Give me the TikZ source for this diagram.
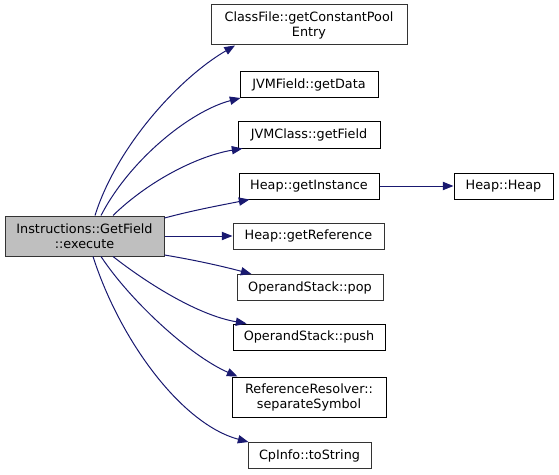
\documentclass[tikz,border=0pt]{standalone}
\usepackage{fontspec}
\setmainfont{DejaVu Sans}
\usetikzlibrary{arrows.meta,calc}
\definecolor{edgecol}{HTML}{191970}
\definecolor{graybord}{HTML}{333333}
\definecolor{mainfill}{HTML}{BFBFBF}
\begin{document}
\begin{tikzpicture}[x=0.75pt,y=-0.75pt,
  box/.style={draw=black, line width=0.75pt, fill=white, inner sep=0pt, align=center,
    font=\fontsize{9.6pt}{11.25pt}\selectfont},
  gbox/.style={box, draw=graybord},
  call/.style={draw=edgecol, line width=0.75pt,
    -{Triangle[length=8pt,width=6.2pt,fill=edgecol]}}]
\useasboundingbox (0,0) rectangle (559,474);

\node[gbox, fill=mainfill, minimum width=119.25pt, minimum height=30pt] (main) at (84.5,236) {Instructions::GetField\\::execute};
\node[gbox, minimum width=147pt, minimum height=30pt] (cf) at (309,25) {ClassFile::getConstantPool\\Entry};
\node[box, minimum width=103.5pt, minimum height=19.5pt] (gd) at (309,84.5) {JVMField::getData};
\node[box, minimum width=106.5pt, minimum height=19.5pt] (gf) at (309,135) {JVMClass::getField};
\node[box, minimum width=105pt, minimum height=19.5pt] (gi) at (309,186) {Heap::getInstance};
\node[box, minimum width=74.25pt, minimum height=19.5pt] (hh) at (503.5,186) {Heap::Heap};
\node[gbox, minimum width=113.25pt, minimum height=19.5pt] (gr) at (308.5,236) {Heap::getReference};
\node[gbox, minimum width=109.5pt, minimum height=19.5pt] (pop) at (310,287.5) {OperandStack::pop};
\node[box, minimum width=114pt, minimum height=19.5pt] (push) at (309,337) {OperandStack::push};
\node[box, minimum width=115.5pt, minimum height=30pt] (rr) at (309,397) {ReferenceResolver::\\separateSymbol};
\node[gbox, minimum width=92.25pt, minimum height=19.5pt] (ci) at (309.5,455.5) {CpInfo::toString};

\draw[call] ($(main.north)+(10.5,0)$) .. controls +(22,-70) and +(-55,32) .. ($(cf.south)+(-74,0)$);
\draw[call] ($(main.north)+(16.5,0)$) .. controls +(29,-56) and +(-50,13) .. ($(gd.south west)+(1,0)$);
\draw[call] ($(main.north)+(28.5,0)$) .. controls +(37,-36) and +(-43,7) .. ($(gf.south west)+(5,0)$);
\draw[call] ($(main.east)+(0,-18)$) .. controls +(30,-8) and +(-30,6) .. ($(gi.south west)+(11,0)$);
\draw[call] (gi.east) -- (hh.west);
\draw[call] (main.east) -- (gr.west);
\draw[call] ($(main.east)+(0,19)$) .. controls +(30,5) and +(-30,-8) .. ($(pop.north west)+(15,0)$);
\draw[call] ($(main.south)+(28.5,0)$) .. controls +(37,29) and +(-47,-8) .. ($(push.north west)+(14,0)$);
\draw[call] ($(main.south)+(16.5,0)$) .. controls +(29,44) and +(-48,-21) .. ($(rr.north west)+(6,0)$);
\draw[call] ($(main.south)+(8.5,0)$) .. controls +(27,84) and +(-67,-18) .. ($(ci.north west)+(1,0)$);
\end{tikzpicture}
\end{document}
